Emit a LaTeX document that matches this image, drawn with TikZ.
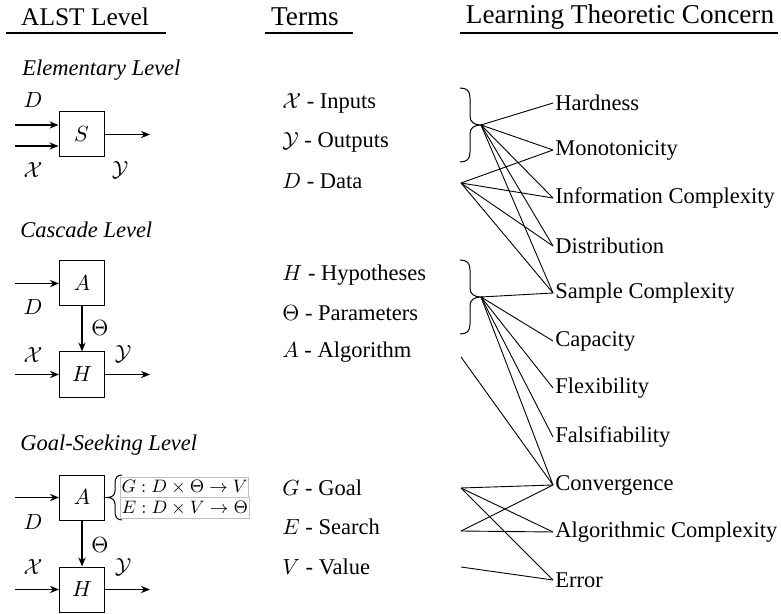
\documentclass[tikz,border=0pt]{standalone}
\usepackage[no-math]{fontspec}
\setmainfont{Liberation Serif}
\usetikzlibrary{arrows.meta}
\begin{document}
\begin{tikzpicture}[x=0.5pt,y=-0.5pt,
  blk/.style={draw, line width=0.5pt, minimum width=22.5pt, minimum height=22.5pt, inner sep=0pt, font=\fontsize{11.25}{13}\selectfont},
  lbl/.style={inner sep=0pt, font=\fontsize{11.25}{13}\selectfont},
  term/.style={anchor=west, inner sep=1pt, font=\fontsize{11.25}{13}\selectfont},
  concern/.style={anchor=west, inner sep=1pt, font=\fontsize{11.25}{13}\selectfont},
  hdr/.style={inner sep=0pt, font=\fontsize{#1}{15}\selectfont},
  lvl/.style={anchor=west, inner sep=0pt, font=\fontsize{11.25}{13}\selectfont\itshape},
  sig/.style={-{Stealth[length=4.5pt,width=3.6pt]}, line width=0.6pt},
  con/.style={line width=0.45pt},
  rule/.style={line width=0.6pt},
  brc/.style={line width=0.5pt},
  frm/.style={draw=gray!50, line width=0.5pt, minimum width=64pt, minimum height=10.25pt, inner sep=0.5pt, anchor=west, font=\fontsize{9.5}{11}\selectfont}
]
\useasboundingbox (0,0) rectangle (781,614);

% headers
\node[hdr=12.7] (h1) at (85,17) {ALST Level};
\node[hdr=13.6] (h2) at (305,17) {Terms};
\node[hdr=13.6] (h3) at (620,17) {Learning Theoretic Concern};
\draw[rule] (6,33) -- (166,33);
\draw[rule] (265,33) -- (353,33);
\draw[rule] (460,33) -- (778,33);

% Elementary level
\node[lvl] (elt) at (22,70) {Elementary Level};
\node[blk] (S) at (81.5,134.5) {$S$};
\coordinate (sDin) at (15,125);
\coordinate (sXin) at (15,146);
\coordinate (sYout) at (150,134.5);
\draw[sig] (sDin) -- (sDin -| S.west);
\draw[sig] (sXin) -- (sXin -| S.west);
\draw[sig] (S.east) -- (sYout);
\node[lbl] (eD) at (33,100) {$D$};
\node[lbl] (eX) at (33,170) {$\mathcal{X}$};
\node[lbl] (eY) at (120,170) {$\mathcal{Y}$};

% Cascade level
\node[lvl] (cas) at (20,230) {Cascade Level};
\node[blk] (cA) at (82,283.5) {$A$};
\node[blk] (cH) at (82,374.5) {$H$};
\coordinate (cAin) at (15,283.5);
\coordinate (cHin) at (15,374.5);
\coordinate (cHout) at (150,374.5);
\draw[sig] (cAin) -- (cA.west);
\draw[sig] (cA.south) -- (cH.north);
\draw[sig] (cHin) -- (cH.west);
\draw[sig] (cH.east) -- (cHout);
\node[lbl] (cD) at (33,307) {$D$};
\node[lbl] (cT) at (100,328) {$\Theta$};
\node[lbl] (cX) at (33,355) {$\mathcal{X}$};
\node[lbl] (cY) at (123,354) {$\mathcal{Y}$};

% Goal-seeking level
\node[lvl] (gsl) at (20,445) {Goal-Seeking Level};
\node[blk] (gA) at (82,497.5) {$A$};
\node[blk] (gH) at (82,589.5) {$H$};
\coordinate (gAin) at (15,497.5);
\coordinate (gHin) at (15,589.5);
\coordinate (gHout) at (150,589.5);
\draw[sig] (gAin) -- (gA.west);
\draw[sig] (gA.south) -- (gH.north);
\draw[sig] (gHin) -- (gH.west);
\draw[sig] (gH.east) -- (gHout);
\node[lbl] (gD) at (33,522) {$D$};
\node[lbl] (gT) at (100,545) {$\Theta$};
\node[lbl] (gX) at (33,567) {$\mathcal{X}$};
\node[lbl] (gY) at (123,567) {$\mathcal{Y}$};
% left brace
\draw[brc] (122,475) .. controls (117,475) and (115,478) .. (115,483)
  -- (115,491) .. controls (115,495) and (112,497.5) .. (107,497.5)
  .. controls (112,497.5) and (115,500) .. (115,504)
  -- (115,512) .. controls (115,517) and (117,520) .. (122,520);
\node[frm] (fG) at (120,487.5) {$G : D \times \Theta \to V$};
\node[frm] (fE) at (120,508) {$E : D \times V \to \Theta$};

% terms
\node[term] (tX) at (280,103) {$\mathcal{X}$ - Inputs};
\node[term] (tY) at (280,142) {$\mathcal{Y}$ - Outputs};
\node[term] (tD) at (280,181) {$D$ - Data};
\node[term] (tH) at (280,275) {$H$ - Hypotheses};
\node[term] (tT) at (280,313) {$\Theta$ - Parameters};
\node[term] (tA) at (280,352) {$A$ - Algorithm};
\node[term] (tG) at (280,488) {$G$ - Goal};
\node[term] (tE) at (280,527) {$E$ - Search};
\node[term] (tV) at (280,567) {$V$ - Value};

% concerns
\node[concern] (hard) at (553,103) {Hardness};
\node[concern] (mono) at (553,150) {Monotonicity};
\node[concern] (info) at (553,198) {Information Complexity};
\node[concern] (dist) at (553,246) {Distribution};
\node[concern] (samp) at (553,293) {Sample Complexity};
\node[concern] (capa) at (553,341) {Capacity};
\node[concern] (flex) at (553,388) {Flexibility};
\node[concern] (fals) at (553,437) {Falsifiability};
\node[concern] (conv) at (553,485) {Convergence};
\node[concern] (algo) at (553,532) {Algorithmic Complexity};
\node[concern] (err) at (553,580) {Error};

% right braces
\draw[brc] (460,88) .. controls (467,88) and (470,91) .. (470,98)
  -- (470,116) .. controls (470,122) and (474,125) .. (481,125)
  .. controls (474,125) and (470,128) .. (470,134)
  -- (470,152) .. controls (470,159) and (467,162) .. (460,162);
\draw[brc] (460,260) .. controls (467,260) and (470,263) .. (470,270)
  -- (470,288) .. controls (470,294) and (474,297) .. (481,297)
  .. controls (474,297) and (470,300) .. (470,306)
  -- (470,324) .. controls (470,331) and (467,334) .. (460,334);
\coordinate (b1) at (481,125);
\coordinate (b2) at (481,297);
\coordinate (pD) at (461,183);
\coordinate (pA) at (461,357);
\coordinate (pG) at (461,488);
\coordinate (pE) at (461,531);
\coordinate (pV) at (461,567);

\foreach \t in {hard,mono,info,dist,samp} \draw[con] (b1) -- (\t.west);
\foreach \t in {mono,info,dist,samp} \draw[con] (pD) -- (\t.west);
\foreach \t in {samp,capa,flex,fals,conv} \draw[con] (b2) -- (\t.west);
\draw[con] (pA) -- (conv.west);
\foreach \t in {conv,algo,err} \draw[con] (pG) -- (\t.west);
\foreach \t in {conv,algo} \draw[con] (pE) -- (\t.west);
\draw[con] (pV) -- (err.west);
\end{tikzpicture}
\end{document}
